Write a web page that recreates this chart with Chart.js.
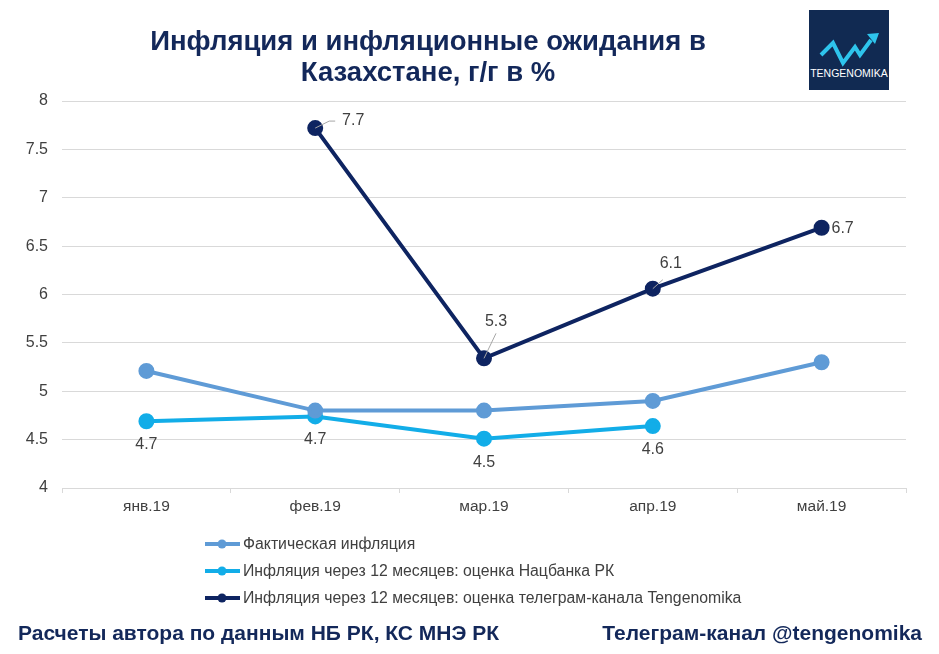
<!DOCTYPE html>
<html>
<head>
<meta charset="utf-8">
<script src="https://cdn.jsdelivr.net/npm/chart.js@4.4.0/dist/chart.umd.min.js"></script>
<style>
  body { margin: 0; background: #fff; }
  #wrap { position: relative; width: 939px; height: 654px; }
  #logo { position: absolute; left: 809px; top: 10px; }
</style>
</head>
<body>
<div id="wrap">
  <canvas id="chart" width="939" height="654"></canvas>
  <svg id="logo" width="80" height="80" viewBox="0 0 80 80">
    <rect width="80" height="80" fill="#112a52"/>
    <polyline points="12,45 24,33 34,53 46,37 51,45 62,30" fill="none" stroke="#2ec4ec" stroke-width="4" stroke-linejoin="miter"/>
    <polygon points="58,24 70,23 66,34" fill="#2ec4ec"/>
    <text x="40" y="67" fill="#fff" font-family="Liberation Sans, Arial" font-size="10.5" text-anchor="middle">TENGENOMIKA</text>
  </svg>
</div>
<script>
// данные
const months = ['янв.19', 'фев.19', 'мар.19', 'апр.19', 'май.19'];
const actual = [5.21, 4.8, 4.8, 4.9, 5.3];
const nbForecast = [4.69, 4.74, 4.51, 4.64, null];
const tgForecast = [null, 7.72, 5.34, 6.06, 6.69];

const FONT = "'Liberation Sans', Arial, sans-serif";
const NAVY = '#13285a';

// подписи значений + выноски
const pointLabels = {
  id: 'pointLabels',
  afterDatasetsDraw(chart) {
    const ctx = chart.ctx;
    ctx.save();
    ctx.font = '16px ' + FONT;
    ctx.fillStyle = '#404040';
    ctx.textAlign = 'center';
    ctx.textBaseline = 'middle';
    chart.data.datasets.forEach((ds, i) => {
      if (!ds.labelOffsets) return;
      chart.getDatasetMeta(i).data.forEach((pt, j) => {
        const v = ds.data[j];
        const off = ds.labelOffsets[j];
        if (v == null || !off) return;
        if (off[2]) {
          ctx.strokeStyle = '#a6a6a6';
          ctx.lineWidth = 1;
          ctx.beginPath();
          ctx.moveTo(pt.x, pt.y);
          off[2].forEach(p => ctx.lineTo(pt.x + p[0], pt.y + p[1]));
          ctx.stroke();
        }
        ctx.fillText(v.toFixed(1), pt.x + off[0], pt.y + off[1]);
      });
    });
    ctx.restore();
  }
};

// заголовок, легенда, подвал
const decor = {
  id: 'decor',
  afterDraw(chart) {
    const ctx = chart.ctx;
    ctx.save();
    ctx.fillStyle = NAVY;
    ctx.font = 'bold 27.5px ' + FONT;
    ctx.textAlign = 'center';
    ctx.textBaseline = 'middle';
    ctx.fillText('Инфляция и инфляционные ожидания в', 428, 42);
    ctx.fillText('Казахстане, г/г в %', 428, 73);

    ctx.textAlign = 'left';
    ctx.font = '15.8px ' + FONT;
    chart.data.datasets.forEach((ds, i) => {
      const y = 544 + i * 27;
      ctx.strokeStyle = ds.borderColor;
      ctx.lineWidth = 4;
      ctx.beginPath();
      ctx.moveTo(205, y);
      ctx.lineTo(240, y);
      ctx.stroke();
      ctx.fillStyle = ds.borderColor;
      ctx.beginPath();
      ctx.arc(222, y, 4.5, 0, Math.PI * 2);
      ctx.fill();
      ctx.fillStyle = '#404040';
      ctx.fillText(ds.label, 243, y + 1);
    });

    ctx.fillStyle = NAVY;
    ctx.font = 'bold 21px ' + FONT;
    ctx.fillText('Расчеты автора по данным НБ РК, КС МНЭ РК', 18, 634);
    ctx.textAlign = 'right';
    ctx.fillText('Телеграм-канал @tengenomika', 922, 634);
    ctx.restore();
  }
};

new Chart(document.getElementById('chart'), {
  type: 'line',
  data: {
    labels: months,
    datasets: [{
      label: 'Фактическая инфляция',
      data: actual,
      borderColor: '#5f9bd6',
      backgroundColor: '#5f9bd6',
      borderWidth: 4,
      pointRadius: 6,
      pointHoverRadius: 6
    }, {
      label: 'Инфляция через 12 месяцев: оценка Нацбанка РК',
      data: nbForecast,
      borderColor: '#12ade8',
      backgroundColor: '#12ade8',
      borderWidth: 4,
      pointRadius: 6,
      pointHoverRadius: 6,
      labelOffsets: [[0, 23], [0, 23], [0, 24], [0, 24]]
    }, {
      label: 'Инфляция через 12 месяцев: оценка телеграм-канала Tengenomika',
      data: tgForecast,
      borderColor: '#0e2461',
      backgroundColor: '#0e2461',
      borderWidth: 4,
      pointRadius: 6,
      pointHoverRadius: 6,
      labelOffsets: [null, [38, -7, [[14, -7], [20, -7]]], [12, -37, [[12, -25]]], [18, -25, [[10, -9]]], [21, 1]]
    }]
  },
  options: {
    responsive: false,
    devicePixelRatio: 1,
    animation: false,
    layout: { padding: { top: 101, left: 0, right: 33, bottom: 136 } },
    plugins: {
      legend: { display: false },
      title: { display: false },
      tooltip: { enabled: false }
    },
    scales: {
      y: {
        min: 4,
        max: 8,
        ticks: {
          stepSize: 0.5,
          padding: 14,
          color: '#404040',
          font: { size: 16, family: FONT },
          callback: v => String(v)
        },
        grid: { color: '#d9d9d9', drawTicks: false },
        border: { display: false },
        afterFit(scale) { scale.width = 62; }
      },
      x: {
        offset: true,
        ticks: { padding: 4, color: '#404040', font: { size: 15.5, family: FONT } },
        grid: { offset: true, drawOnChartArea: false, tickLength: 5, color: '#d9d9d9' },
        border: { color: '#d9d9d9' },
        afterFit(scale) { scale.height = 30; }
      }
    }
  },
  plugins: [pointLabels, decor]
});
</script>
</body>
</html>
